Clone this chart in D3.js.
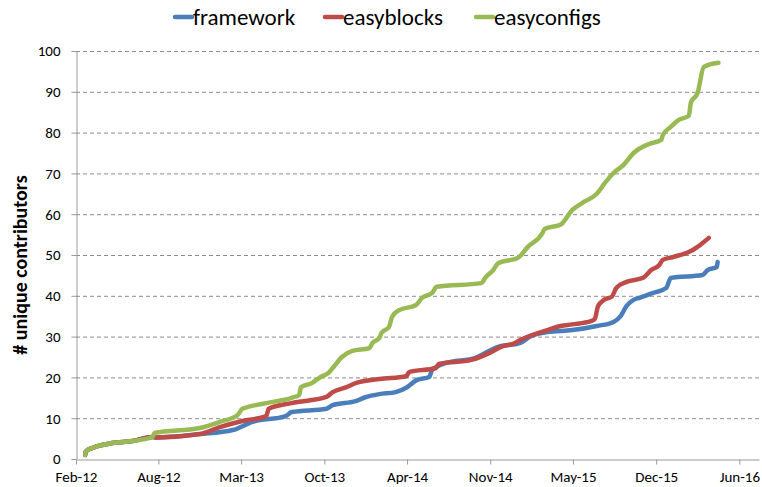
<!DOCTYPE html>
<html>
<head>
<meta charset="utf-8">
<script src="https://cdn.jsdelivr.net/npm/d3@7"></script>
<style>
  body { margin: 0; background: #fff; }
  svg { font-family: Carlito, Lato, "Liberation Sans", sans-serif; }
</style>
</head>
<body>
<div id="chart"></div>
<script>
const seriesNames = ["framework", "easyblocks", "easyconfigs"];
const seriesColors = ["#4a7ebb", "#be4b48", "#98b954"];

const yTicks = [0, 10, 20, 30, 40, 50, 60, 70, 80, 90, 100];
// Excel date axis: ticks roughly every 198 days from mid Feb 2012
const xTickDates = ["2012-02-15", "2012-08-30", "2013-03-16", "2013-10-01", "2014-04-17",
  "2014-11-02", "2015-05-19", "2015-12-04", "2016-06-20"];

const frameworkDates = ["2012-03-08", "2012-03-09", "2012-03-25", "2012-05-12", "2012-06-29", "2012-08-16",
  "2012-08-26", "2012-12-07", "2013-02-24", "2013-04-12", "2013-07-01", "2013-07-15", "2013-10-06",
  "2013-10-21", "2013-12-15", "2014-01-09", "2014-02-10", "2014-03-21", "2014-04-17", "2014-05-11",
  "2014-06-09", "2014-06-16", "2014-07-18", "2014-09-28", "2014-10-12", "2014-11-21", "2015-01-12",
  "2015-02-07", "2015-03-19", "2015-05-17", "2015-07-15", "2015-08-24", "2015-09-10", "2015-09-24",
  "2015-10-11", "2015-10-25", "2015-11-27", "2015-12-28", "2016-01-08", "2016-03-24", "2016-04-05",
  "2016-04-27", "2016-04-29"];
const frameworkValues = [1.0, 1.8, 2.7, 3.9, 4.4, 5.4,
  5.3, 6.1, 7.1, 9.1, 10.5, 11.5, 12.3,
  13.2, 14.2, 15.2, 15.9, 16.4, 17.6, 19.4,
  20.1, 21.8, 23.5, 24.8, 25.5, 27.5, 28.4,
  30.1, 31.1, 31.6, 32.6, 33.6, 35.0, 37.5,
  39.0, 39.5, 40.7, 41.9, 44.4, 45.1, 46.3,
  47.1, 48.3];

const easyblocksDates = ["2012-03-08", "2012-03-09", "2012-03-25", "2012-05-12", "2012-06-29", "2012-08-16",
  "2012-08-26", "2012-12-07", "2013-01-24", "2013-03-19", "2013-05-15", "2013-05-21", "2013-07-15",
  "2013-10-06", "2013-10-21", "2013-11-23", "2013-12-15", "2014-02-10", "2014-04-15", "2014-04-22",
  "2014-06-25", "2014-07-02", "2014-09-18", "2014-11-04", "2014-11-28", "2014-12-31", "2015-01-14",
  "2015-03-19", "2015-04-19", "2015-05-17", "2015-07-01", "2015-07-10", "2015-07-18", "2015-08-01",
  "2015-08-20", "2015-08-31", "2015-09-24", "2015-11-03", "2015-11-22", "2015-12-11", "2015-12-20",
  "2016-01-13", "2016-02-25", "2016-03-12", "2016-03-27", "2016-04-08"];
const easyblocksValues = [1.0, 1.8, 2.7, 3.9, 4.4, 5.4,
  5.3, 6.1, 7.8, 9.3, 10.5, 12.3, 13.7,
  15.2, 16.4, 17.6, 18.6, 19.6, 20.3, 21.3,
  22.3, 23.3, 24.3, 26.2, 27.5, 28.4, 29.2,
  31.6, 32.6, 33.0, 33.8, 34.3, 37.5, 39.0,
  39.8, 42.0, 43.4, 44.4, 46.3, 47.5, 48.8,
  49.5, 51.0, 52.0, 53.2, 54.2];

const easyconfigsDates = ["2012-03-08", "2012-03-09", "2012-03-25", "2012-05-12", "2012-06-29", "2012-08-16",
  "2012-08-21", "2012-12-07", "2013-01-24", "2013-03-08", "2013-03-19", "2013-05-15", "2013-07-15",
  "2013-08-02", "2013-08-06", "2013-09-01", "2013-09-19", "2013-10-13", "2013-10-25", "2013-11-12",
  "2013-12-07", "2014-01-17", "2014-01-24", "2014-02-10", "2014-02-15", "2014-03-05", "2014-03-12",
  "2014-03-29", "2014-05-08", "2014-05-23", "2014-06-16", "2014-06-27", "2014-10-12", "2014-10-21",
  "2014-11-09", "2014-11-21", "2015-01-07", "2015-01-31", "2015-03-07", "2015-03-12", "2015-04-19",
  "2015-05-17", "2015-06-14", "2015-07-15", "2015-08-03", "2015-08-24", "2015-09-17", "2015-10-11",
  "2015-11-17", "2015-12-16", "2015-12-20", "2016-01-08", "2016-01-27", "2016-02-20", "2016-02-25",
  "2016-03-12", "2016-03-27", "2016-05-01"];
const easyconfigsValues = [1.0, 1.8, 2.7, 3.9, 4.4, 5.4,
  6.4, 7.6, 9.1, 10.8, 12.3, 13.7, 15.0,
  15.7, 17.6, 18.6, 19.9, 21.3, 22.8, 25.0,
  26.5, 27.2, 28.4, 29.7, 30.9, 32.4, 34.8,
  36.5, 37.7, 39.5, 40.7, 42.2, 43.1, 44.4,
  46.3, 48.0, 49.3, 52.0, 55.4, 56.4, 57.4,
  61.0, 63.0, 65.0, 67.6, 70.1, 72.1, 75.0,
  77.2, 78.2, 79.4, 81.4, 83.1, 84.1, 87.3,
  89.7, 96.1, 97.1];

const parse = d3.timeParse("%Y-%m-%d");
const zip = (ds, vs) => ds.map((d, i) => ({ date: parse(d), value: vs[i] }));
const series = [
  zip(frameworkDates, frameworkValues),
  zip(easyblocksDates, easyblocksValues),
  zip(easyconfigsDates, easyconfigsValues)
];

const W = 762, H = 487;
const svg = d3.select("#chart").append("svg").attr("width", W).attr("height", H);

const x = d3.scaleTime()
  .domain([parse("2012-02-15"), parse("2016-08-06")])
  .range([76, 759]);
const y = d3.scaleLinear().domain([0, 100]).range([459, 51]);

// gridlines
svg.append("g")
  .selectAll("line")
  .data(yTicks.filter(t => t > 0))
  .join("line")
  .attr("x1", 76).attr("x2", 759)
  .attr("y1", d => y(d) + 0.5).attr("y2", d => y(d) + 0.5)
  .attr("stroke", "#8c8c8c")
  .attr("stroke-width", 1)
  .attr("stroke-dasharray", "4,3");

// y axis
const gy = svg.append("g")
  .attr("transform", "translate(76.5,0)")
  .call(d3.axisLeft(y).tickValues(yTicks).tickSize(5).tickSizeOuter(0).tickPadding(11));
gy.select(".domain").attr("stroke", "#9a9a9a");
gy.selectAll(".tick line").attr("stroke", "#9a9a9a");
gy.selectAll(".tick text").attr("font-size", 15).attr("fill", "#000")
  .style("font-family", "Carlito, Lato, sans-serif");

// x axis
const gx = svg.append("g")
  .attr("transform", "translate(0,459.5)")
  .call(d3.axisBottom(x).tickValues(xTickDates.map(parse))
    .tickFormat(d3.timeFormat("%b-%y")).tickSize(5).tickSizeOuter(0).tickPadding(7));
gx.select(".domain").attr("stroke", "#9a9a9a");
gx.selectAll(".tick line").attr("stroke", "#9a9a9a");
gx.selectAll(".tick text").attr("font-size", 15).attr("fill", "#000")
  .style("font-family", "Carlito, Lato, sans-serif");

// lines
const line = d3.line()
  .x(d => x(d.date))
  .y(d => y(d.value))
  .curve(d3.curveMonotoneX);

series.forEach((s, i) => {
  svg.append("path")
    .datum(s)
    .attr("fill", "none")
    .attr("stroke", seriesColors[i])
    .attr("stroke-width", 4.5)
    .attr("stroke-linejoin", "round")
    .attr("stroke-linecap", "round")
    .attr("d", line);
});

// y title
svg.append("text")
  .attr("transform", "translate(20,265) rotate(-90)")
  .attr("text-anchor", "middle")
  .attr("dominant-baseline", "central")
  .attr("font-size", 20)
  .attr("font-weight", "bold")
  .text("# unique contributors");

// legend
const legendX = [175, 325, 476];
const legend = svg.append("g");
seriesNames.forEach((name, i) => {
  legend.append("line")
    .attr("x1", legendX[i]).attr("x2", legendX[i] + 17)
    .attr("y1", 17).attr("y2", 17)
    .attr("stroke", seriesColors[i])
    .attr("stroke-width", 4.5)
    .attr("stroke-linecap", "round");
  legend.append("text")
    .attr("x", legendX[i] + 18)
    .attr("y", 25)
    .attr("font-size", 23)
    .text(name);
});
</script>
</body>
</html>
